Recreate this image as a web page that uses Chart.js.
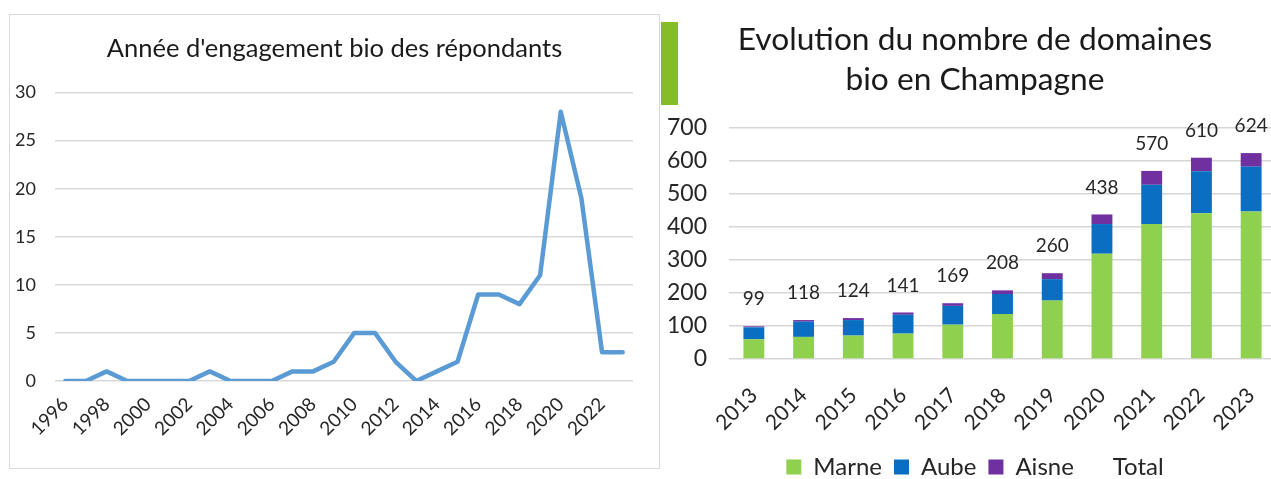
<!DOCTYPE html>
<html>
<head>
<meta charset="utf-8">
<script src="https://cdn.jsdelivr.net/npm/chart.js@4.4.1/dist/chart.umd.min.js"></script>
<style>
  html, body { margin: 0; padding: 0; background: #fff; }
  body { width: 1271px; height: 479px; overflow: hidden; position: relative; }
  #leftBox { position: absolute; left: 9px; top: 14px; width: 649px; height: 453px; border: 1px solid #d9d9d9; }
  #leftBox canvas { position: absolute; left: 0; top: 0; }
  #rightBox { position: absolute; left: 664px; top: 0; width: 622px; height: 489px; }
  #greenBlock { position: absolute; left: 661px; top: 22px; width: 17px; height: 83px; background: #86bc25; z-index: 2; }
</style>
</head>
<body>
<div id="leftBox"><canvas id="c1" width="649" height="453"></canvas></div>
<div id="rightBox"><canvas id="c2" width="622" height="489"></canvas></div>
<div id="greenBlock"></div>
<script>
// ---------- Data: left chart ----------
const engagementYears = ['1996','1997','1998','1999','2000','2001','2002','2003','2004','2005','2006','2007','2008','2009','2010','2011','2012','2013','2014','2015','2016','2017','2018','2019','2020','2021','2022','2023'];
const respondents = [0,0,1,0,0,0,0,1,0,0,0,1,1,2,5,5,2,0,1,2,9,9,8,11,28,19,3,3];
const leftTicks = [0,5,10,15,20,25,30];

// ---------- Data: right chart ----------
const champYears = ['2013','2014','2015','2016','2017','2018','2019','2020','2021','2022','2023'];
const marne = [60,67,71,77,104,136,177,319,409,442,447];
const aube  = [36,46,47,57,57,61,65,90,119,127,136];
const aisne = [3,5,6,7,8,11,18,29,42,41,41];
const totals = [99,118,124,141,169,208,260,438,570,610,624];
const rightTicks = [0,100,200,300,400,500,600,700];

const FONT = 'Lato, "Open Sans", sans-serif';

// empty right-hand spacer axis (keeps the title centred on the whole panel)
function spacerAxis(w) {
  return {
    position: 'right', display: true,
    grid: { display: false, drawTicks: false }, border: { display: false },
    ticks: { display: false },
    afterFit: function (s) { s.width = w; }
  };
}

// ---------- Left chart ----------
new Chart(document.getElementById('c1'), {
  type: 'line',
  data: {
    labels: engagementYears,
    datasets: [{
      label: 'Répondants',
      data: respondents,
      borderColor: '#5b9bd5',
      backgroundColor: '#5b9bd5',
      borderWidth: 4.5,
      pointRadius: 0,
      borderJoinStyle: 'round',
      borderCapStyle: 'round',
      tension: 0
    }]
  },
  options: {
    responsive: false,
    animation: false,
    layout: { padding: 0 },
    plugins: {
      legend: { display: false },
      tooltip: { enabled: false },
      title: {
        display: true,
        text: "Année d'engagement bio des répondants",
        color: '#1a1a1a',
        font: { family: FONT, size: 25.5, weight: 'normal', lineHeight: 1.2 },
        padding: { top: 18, bottom: 29 }
      }
    },
    scales: {
      x: {
        offset: true,
        grid: { display: false },
        border: { display: false },
        ticks: {
          autoSkip: false,
          minRotation: 45, maxRotation: 45,
          color: '#262626',
          padding: 4,
          font: { family: FONT, size: 19 },
          callback: function (v, i) { return i % 2 === 0 ? engagementYears[i] : ''; }
        },
        afterFit: function (s) { s.height = 87; }
      },
      y: {
        min: 0, max: 30,
        afterBuildTicks: function (s) { s.ticks = leftTicks.map(v => ({ value: v })); },
        grid: { color: '#d9d9d9', lineWidth: 1.5, drawTicks: false },
        border: { display: false },
        ticks: { color: '#262626', padding: 19, font: { family: FONT, size: 18 } },
        afterFit: function (s) { s.width = 45; }
      },
      ySpacer: spacerAxis(26)
    }
  }
});

// ---------- Right chart ----------
const totalLabels = {
  id: 'totalLabels',
  afterDatasetsDraw(chart) {
    const ctx = chart.ctx;
    const y = chart.scales.y;
    const meta = chart.getDatasetMeta(3);
    ctx.save();
    ctx.font = '19px ' + FONT;
    ctx.fillStyle = '#262626';
    ctx.textAlign = 'center';
    ctx.textBaseline = 'middle';
    meta.data.forEach((pt, i) => {
      ctx.fillText(String(totals[i]), pt.x, y.getPixelForValue(totals[i]) - 27);
    });
    ctx.restore();
  }
};

new Chart(document.getElementById('c2'), {
  type: 'bar',
  data: {
    labels: champYears,
    datasets: [
      { label: 'Marne', data: marne, backgroundColor: '#8fd14f', stack: 's', barPercentage: 0.42, categoryPercentage: 1 },
      { label: 'Aube', data: aube, backgroundColor: '#0a6fc2', stack: 's', barPercentage: 0.42, categoryPercentage: 1 },
      { label: 'Aisne', data: aisne, backgroundColor: '#7030a0', stack: 's', barPercentage: 0.42, categoryPercentage: 1 },
      { type: 'line', label: 'Total', data: totals, stack: 't', showLine: false, pointRadius: 0,
        borderColor: 'rgba(0,0,0,0)', backgroundColor: 'rgba(0,0,0,0)', borderWidth: 0 }
    ]
  },
  options: {
    responsive: false,
    animation: false,
    layout: { padding: 0 },
    plugins: {
      tooltip: { enabled: false },
      title: {
        display: true,
        text: ['Evolution du nombre de domaines', 'bio en Champagne'],
        color: '#1a1a1a',
        font: { family: FONT, size: 31.7, weight: 'normal', lineHeight: 1.262 },
        padding: { top: 20, bottom: 28 }
      },
      legend: {
        position: 'bottom',
        labels: {
          color: '#262626',
          font: { family: FONT, size: 24 },
          boxWidth: 15, boxHeight: 15,
          padding: 12
        }
      }
    },
    scales: {
      x: {
        stacked: true,
        grid: { display: false },
        border: { display: false },
        ticks: {
          autoSkip: false,
          minRotation: 45, maxRotation: 45,
          color: '#262626',
          padding: 16,
          font: { family: FONT, size: 21 }
        },
        afterFit: function (s) { s.height = s.chart.height - s.chart.legend.height - 359; }
      },
      y: {
        stacked: true,
        min: 0, max: 700,
        afterBuildTicks: function (s) { s.ticks = rightTicks.map(v => ({ value: v })); },
        grid: { color: '#d6d6d6', lineWidth: 1.5, drawTicks: false },
        border: { display: false },
        ticks: { color: '#262626', padding: 22, font: { family: FONT, size: 23 } },
        afterFit: function (s) { s.width = 65; }
      },
      ySpacer: spacerAxis(10)
    }
  },
  plugins: [totalLabels]
});
</script>
</body>
</html>
